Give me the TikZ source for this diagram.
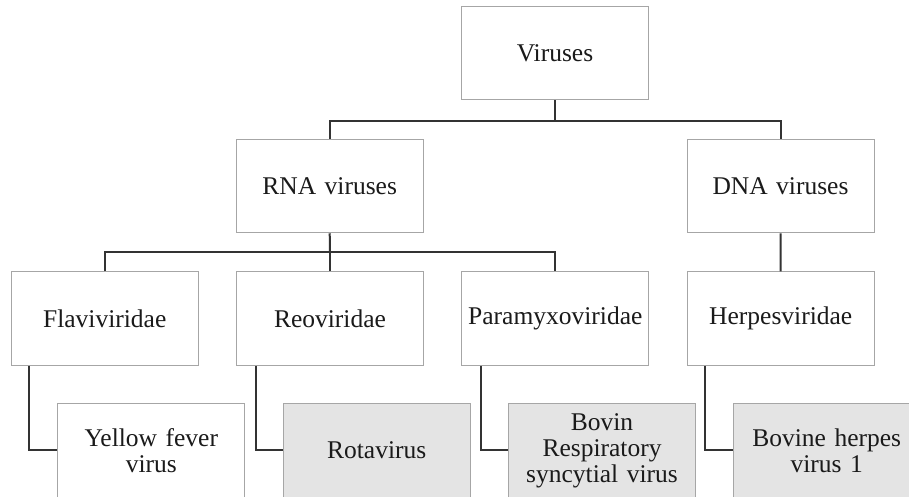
\documentclass[tikz,border=0pt]{standalone}
\usepackage{fontspec}
\setmainfont[WordSpace={0.85}]{Liberation Serif}
\definecolor{boxline}{HTML}{A6A6A6}
\definecolor{boxgray}{HTML}{E4E4E4}
\definecolor{conn}{HTML}{333333}
\definecolor{txt}{HTML}{1A1A1A}
\tikzset{
  vbox/.style={draw=boxline, line width=1pt, fill=white, minimum width=187pt, minimum height=93.5pt,
    inner sep=2pt, align=center, text=txt, font=\fontsize{25.5}{26}\selectfont, text width=183pt},
  gbox/.style={vbox, fill=boxgray},
  link/.style={draw=conn, line width=2pt}
}
\begin{document}
\begin{tikzpicture}[x=1pt,y=-1pt]
\useasboundingbox (0,0) rectangle (909,496);
\clip (0,0) rectangle (909,496);
\fill[white] (0,0) rectangle (909,496);
\coordinate (h1) at (555,120.7);
\coordinate (h2) at (330,252.3);
\node[vbox] (vir) at (555,53) {Viruses};
\node[vbox] (rna) at (329.7,186) {RNA viruses};
\node[vbox] (dna) at (780.5,186) {DNA viruses};
\node[vbox] (fla) at (104.7,318.7) {Flaviviridae};
\node[vbox] (reo) at (330,318.7) {Reoviridae};
\node[vbox] (par) at (555.3,318.7) {Paramyxoviridae};
\node[vbox] (her) at (780.7,318.7) {Herpesviridae};
\node[vbox] (yel) at (151.3,450.3) {Yellow fever\\virus};
\node[gbox] (rot) at (376.7,450.3) {Rotavirus};
\node[gbox] (bov) at (602,450.3) {Bovin\\Respiratory\\syncytial virus};
\node[gbox] (bhv) at (826.7,450.3) {Bovine herpes\\virus 1};
\draw[link] (vir.south) -- (h1);
\draw[link] (rna.north) |- (h1) -| (dna.north);
\draw[link] (rna.south) -- (h2);
\draw[link] (fla.north) |- (h2) -| (par.north);
\draw[link] (h2) -- (reo.north);
\draw[link] (dna.south) -- (her.north);
\draw[link] ([xshift=18.5pt]fla.south west) |- (yel.west);
\draw[link] ([xshift=19.5pt]reo.south west) |- (rot.west);
\draw[link] ([xshift=19.3pt]par.south west) |- (bov.west);
\draw[link] ([xshift=18.7pt]her.south west) |- (bhv.west);
\end{tikzpicture}
\end{document}
